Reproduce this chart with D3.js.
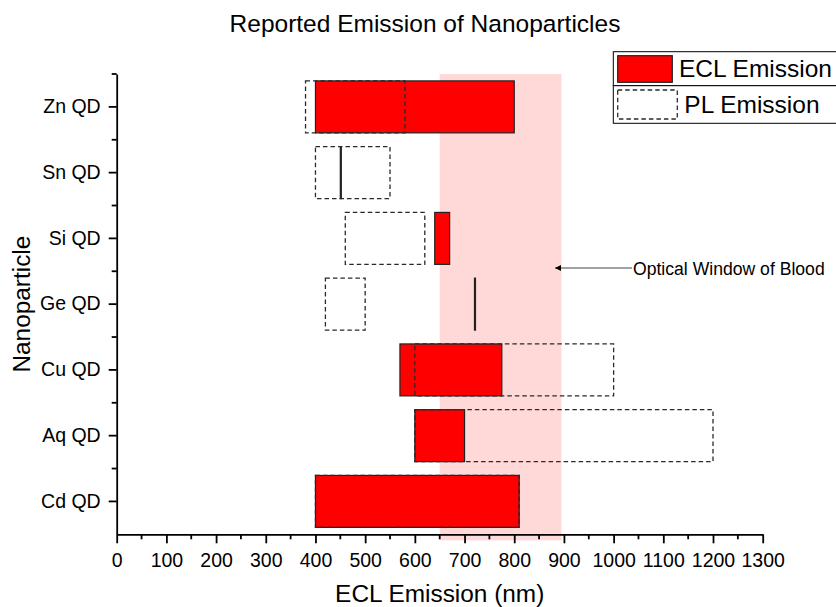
<!DOCTYPE html>
<html>
<head>
<meta charset="utf-8">
<script src="https://cdn.jsdelivr.net/npm/d3@7"></script>
<style>
  body { margin: 0; background: #fff; }
  text { font-family: "Liberation Sans", Arial, sans-serif; fill: #000; }
</style>
</head>
<body>
<script>
var svgWidth = 836;
var svgHeight = 607;

// data, top to bottom
var categories = ["Zn QD", "Sn QD", "Si QD", "Ge QD", "Cu QD", "Aq QD", "Cd QD"];
var eclStart = [400, 450, 640, 720, 570, 600, 400];
var eclEnd   = [800, 450, 670, 720, 775, 700, 810];
var plStart  = [380, 400, 460, 420, 600, 600, 400];
var plEnd    = [580, 550, 620, 500, 1000, 1200, 810];
var bloodWindow = [650, 895];
var xTicks = d3.range(0, 1301, 100);
var xMinor = d3.range(50, 1300, 100);

var Margin = { top: 74, left: 116.7 };
var Width = 646;
var Height = 460.3;

var svg = d3.select("body")
  .append("svg")
  .attr("width", svgWidth)
  .attr("height", svgHeight);

var chartGroup = svg.append("g")
  .attr("transform", `translate(${Margin.left}, ${Margin.top})`);

var xScale = d3.scaleLinear()
  .domain([0, 1300])
  .range([0, Width]);

var yBand = d3.scaleBand()
  .domain(categories)
  .range([0, Height])
  .padding(0);

var barH = yBand.bandwidth() * 0.79;

// optical window shading
chartGroup.append("rect")
  .attr("x", xScale(bloodWindow[0]))
  .attr("y", 0)
  .attr("width", xScale(bloodWindow[1]) - xScale(bloodWindow[0]))
  .attr("height", Height + 6)
  .attr("fill", "#ffd8d8");

var rows = categories.map(function(c, i) {
  return { cat: c, e0: eclStart[i], e1: eclEnd[i], p0: plStart[i], p1: plEnd[i] };
});

// ECL bars
chartGroup.selectAll(".ecl")
  .data(rows)
  .enter()
  .append("rect")
  .attr("class", "ecl")
  .attr("x", d => xScale(d.e0))
  .attr("y", d => yBand(d.cat) + (yBand.bandwidth() - barH) / 2)
  .attr("width", d => Math.max(xScale(d.e1) - xScale(d.e0), 1))
  .attr("height", barH)
  .attr("fill", "#ff0000")
  .attr("stroke", "#222")
  .attr("stroke-width", 1.2);

// PL boxes
chartGroup.selectAll(".pl")
  .data(rows)
  .enter()
  .append("rect")
  .attr("class", "pl")
  .attr("x", d => xScale(d.p0))
  .attr("y", d => yBand(d.cat) + (yBand.bandwidth() - barH) / 2)
  .attr("width", d => xScale(d.p1) - xScale(d.p0))
  .attr("height", barH)
  .attr("fill", "none")
  .attr("stroke", "#2a2a2a")
  .attr("stroke-width", 1.3)
  .attr("stroke-dasharray", "4.5,3");

// axes
var bottomAxis = d3.axisBottom(xScale)
  .tickValues(xTicks)
  .tickFormat(d3.format("d"))
  .tickSize(9)
  .tickPadding(10)
  .tickSizeOuter(0);

var xg = chartGroup.append("g")
  .attr("transform", `translate(0, ${Height})`)
  .call(bottomAxis);

xg.selectAll(".minor")
  .data(xMinor)
  .enter()
  .append("line")
  .attr("x1", d => xScale(d))
  .attr("x2", d => xScale(d))
  .attr("y1", 0)
  .attr("y2", 5)
  .attr("stroke", "#000")
  .attr("stroke-width", 1.8);

var leftAxis = d3.axisLeft(yBand)
  .tickSize(8)
  .tickPadding(8)
  .tickSizeOuter(0);

var yg = chartGroup.append("g")
  .call(leftAxis);

yg.selectAll(".minor")
  .data(categories)
  .enter()
  .append("line")
  .attr("x1", 0)
  .attr("x2", -5)
  .attr("y1", d => yBand(d))
  .attr("y2", d => yBand(d))
  .attr("stroke", "#000")
  .attr("stroke-width", 1.8);

[xg, yg].forEach(function(g) {
  g.select(".domain").attr("stroke", "#000").attr("stroke-width", 1.8);
  g.selectAll(".tick line").attr("stroke", "#000").attr("stroke-width", 1.8);
  g.selectAll(".tick text")
    .style("font-size", "19.5px")
    .style("font-family", "'Liberation Sans', Arial, sans-serif")
    .attr("fill", "#000");
});

// annotation
svg.append("defs").append("marker")
  .attr("id", "arrow")
  .attr("viewBox", "0 0 10 10")
  .attr("refX", 10)
  .attr("refY", 5)
  .attr("markerWidth", 10)
  .attr("markerHeight", 6)
  .attr("markerUnits", "userSpaceOnUse")
  .attr("orient", "auto")
  .append("path")
  .attr("d", "M0,0 L10,5 L0,10 Z")
  .attr("fill", "#000");

svg.append("line")
  .attr("x1", 632)
  .attr("x2", 555)
  .attr("y1", 268)
  .attr("y2", 268)
  .attr("stroke", "#444")
  .attr("stroke-width", 1.2)
  .attr("marker-end", "url(#arrow)");

svg.append("text")
  .attr("x", 633)
  .attr("y", 274.5)
  .style("font-size", "17.6px")
  .text("Optical Window of Blood");

// titles
svg.append("text")
  .attr("x", 425)
  .attr("y", 31.5)
  .style("text-anchor", "middle")
  .style("font-size", "24.5px")
  .text("Reported Emission of Nanoparticles");

svg.append("text")
  .attr("x", Margin.left + Width / 2)
  .attr("y", 602)
  .style("text-anchor", "middle")
  .style("font-size", "24.4px")
  .text("ECL Emission (nm)");

svg.append("text")
  .attr("transform", "rotate(-90)")
  .attr("x", -(Margin.top + Height / 2))
  .attr("y", 30)
  .style("text-anchor", "middle")
  .style("font-size", "24.4px")
  .text("Nanoparticle");

// legend
var legend = svg.append("g");
legend.append("rect")
  .attr("x", 613.3).attr("y", 51.7)
  .attr("width", 240).attr("height", 34)
  .attr("fill", "#fff").attr("stroke", "#000").attr("stroke-width", 1);
legend.append("rect")
  .attr("x", 613.3).attr("y", 85.7)
  .attr("width", 240).attr("height", 37.6)
  .attr("fill", "#fff").attr("stroke", "#000").attr("stroke-width", 1);
legend.append("rect")
  .attr("x", 617.7).attr("y", 55.7)
  .attr("width", 54.6).attr("height", 26.6)
  .attr("fill", "#ff0000").attr("stroke", "#222").attr("stroke-width", 1.2);
legend.append("text")
  .attr("x", 679).attr("y", 77.3)
  .style("font-size", "24.5px")
  .text("ECL Emission");
legend.append("rect")
  .attr("x", 617.7).attr("y", 90)
  .attr("width", 59.6).attr("height", 29)
  .attr("fill", "none").attr("stroke", "#2a2a2a").attr("stroke-width", 1.3)
  .attr("stroke-dasharray", "4.5,3");
legend.append("text")
  .attr("x", 684.3).attr("y", 113.3)
  .style("font-size", "24.5px")
  .text("PL Emission");
</script>
</body>
</html>
